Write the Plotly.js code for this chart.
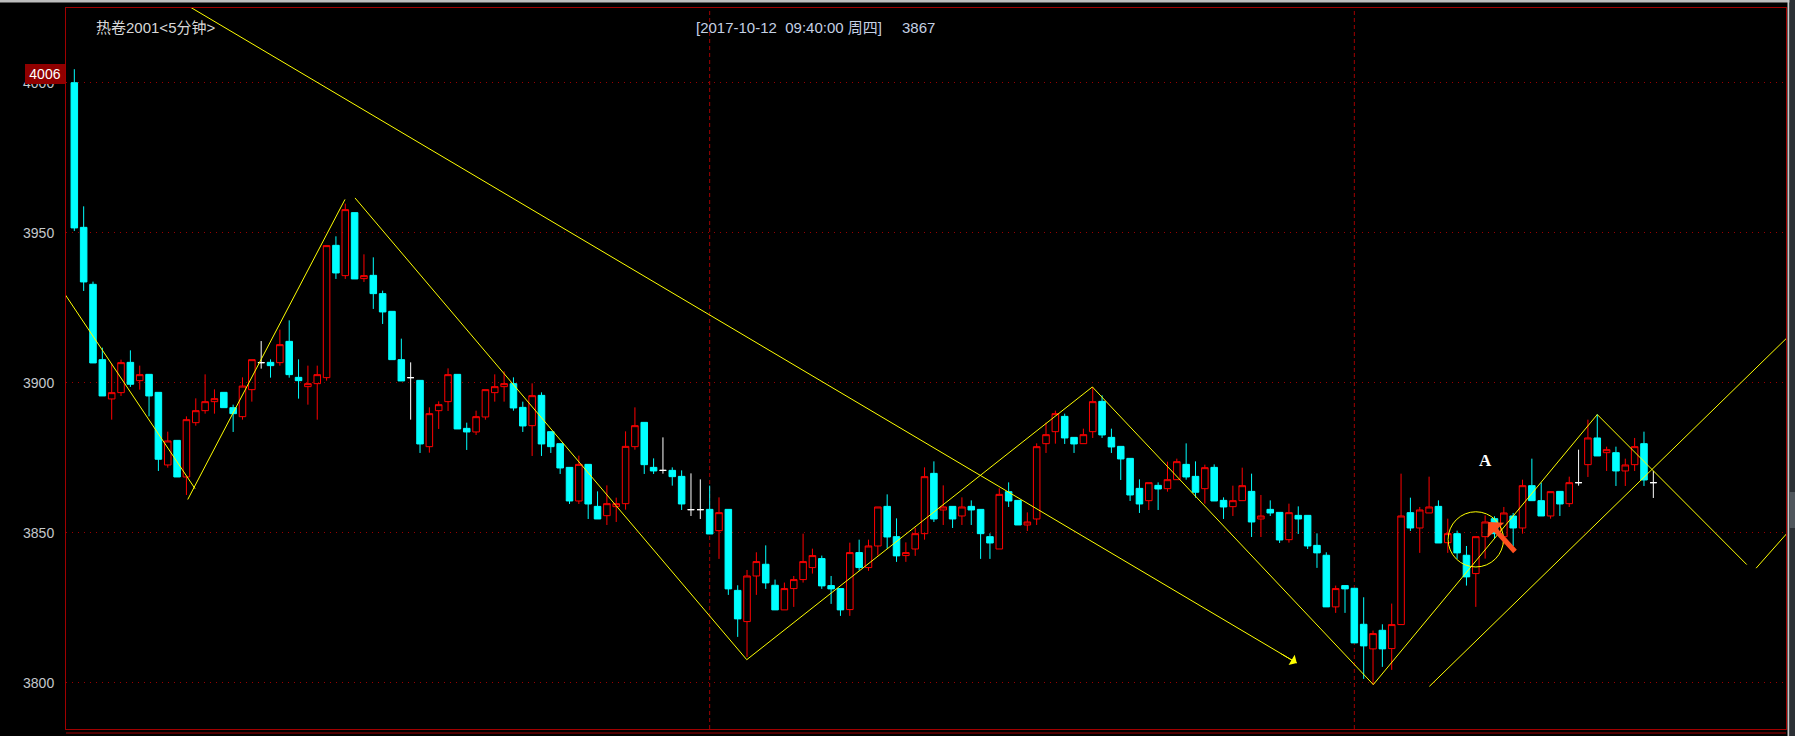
<!DOCTYPE html>
<html><head><meta charset="utf-8">
<script src="https://cdn.plot.ly/plotly-3.0.1.min.js"></script>
<style>html,body{margin:0;padding:0;background:#000;overflow:hidden}</style>
</head><body><div id="chart" style="width:1795px;height:736px"></div>
<script>
// ---- data: 5-minute candles of 热卷2001 ----
const openP = [4000,3951.8,3932.8,3907.7,3894.6,3896.7,3906.8,3900.7,3902.8,3896.8,
3872.6,3880.8,3868.6,3886.7,3890.7,3893.7,3896.8,3891.7,3888.7,3897.7,
3906.7,3906.8,3906.7,3913.8,3901.8,3898.7,3899.7,3901.7,3945.8,3935.7,
3956.7,3934.7,3935.8,3929.7,3923.8,3907.7,3901.7,3900.8,3878.7,3890.7,
3893.7,3902.8,3884.8,3883.6,3888.6,3896.7,3898.7,3899.7,3891.8,3885.7,
3895.8,3883.7,3879.7,3871.8,3860.6,3872.8,3858.8,3855.7,3858.7,3859.7,
3878.7,3886.8,3871.8,3870.8,3870.8,3868.8,3857.7,3857.7,3857.8,3850.7,
3857.8,3830.8,3820.4,3835.6,3839.5,3832.5,3824.3,3831.4,3834.4,3838.4,
3841.4,3832.4,3831.4,3824.4,3843.4,3838.4,3845.6,3858.8,3848.7,3842.4,
3844.6,3849.7,3869.8,3857.6,3858.8,3855.6,3858.8,3857.8,3848.7,3844.6,
3863.7,3860.8,3852.6,3854.6,3879.7,3883.7,3888.8,3881.8,3879.7,3883.7,
3893.8,3881.8,3878.8,3874.8,3864.8,3860.7,3865.8,3864.7,3867.7,3872.8,
3868.8,3864.7,3871.8,3860.8,3858.7,3860.7,3863.8,3854.6,3857.8,3856.8,
3847.7,3855.8,3855.8,3845.8,3842.5,3825.3,3832.4,3831.5,3819.5,3811.3,
3817.5,3811.4,3819.4,3856.7,3851.6,3856.6,3858.8,3846.7,3849.7,3842.5,
3836.4,3848.7,3854.7,3848.7,3855.6,3851.6,3865.7,3860.7,3855.6,3863.8,
3859.7,3866.7,3872.7,3881.6,3876.7,3876.7,3870.6,3872.7,3879.7,3866.7];
const highP = [4004.5,3958.8,3933.7,3911.7,3906.4,3907.7,3910.8,3905.7,3902.8,3896.8,
3883.7,3880.8,3888.8,3894.8,3902.8,3897.8,3896.8,3892.7,3901.8,3907.7,
3913.9,3907.8,3917.7,3920.8,3907.8,3905.7,3905.7,3945.7,3948.8,3959.7,
3956.7,3942.8,3941.8,3930.7,3923.8,3914.7,3906.8,3900.8,3891.8,3893.8,
3904.8,3902.8,3886.7,3890.7,3897.7,3902.8,3903.8,3901.8,3893.7,3899.8,
3896.8,3883.7,3879.7,3871.8,3875.7,3872.8,3863.8,3865.8,3861.7,3883.8,
3891.8,3886.8,3874.8,3881.8,3871.8,3870.8,3869.8,3867.8,3865.7,3861.8,
3857.8,3832.5,3837.6,3843.5,3845.8,3834.4,3833.4,3835.6,3849.7,3844.7,
3842.4,3835.6,3831.4,3846.7,3847.7,3847.7,3858.6,3862.8,3854.8,3846.8,
3851.7,3871.8,3873.8,3865.8,3858.8,3861.8,3860.8,3857.8,3849.8,3864.8,
3866.8,3860.8,3856.8,3879.8,3886.7,3890.7,3889.7,3881.8,3884.7,3898.6,
3895.8,3884.7,3878.8,3874.8,3867.8,3866.7,3866.8,3873.7,3874.7,3879.8,
3873.8,3872.7,3872.8,3861.8,3865.7,3871.7,3869.7,3862.6,3860.8,3856.8,
3859.7,3858.8,3855.8,3849.8,3843.5,3832.4,3832.4,3831.5,3828.5,3817.4,
3819.5,3826.4,3869.7,3861.7,3858.6,3868.7,3860.8,3854.7,3850.7,3845.6,
3848.7,3855.8,3855.5,3858.6,3856.6,3867.7,3874.7,3866.7,3863.7,3863.8,
3868.7,3877.7,3887.7,3889.5,3878.7,3878.7,3874.7,3881.6,3883.7,3870.6];
const lowP = [3950.6,3930.6,3906.6,3895.6,3887.7,3895.6,3898.6,3897.7,3888.8,3870.6,
3871.7,3868.6,3862.6,3885.7,3889.7,3889.7,3891.7,3883.6,3887.7,3893.7,
3904.7,3901.7,3905.7,3901.7,3894.7,3892.7,3887.7,3900.7,3934.6,3934.6,
3934.6,3933.6,3924.6,3919.6,3907.7,3900.6,3887.7,3876.6,3876.7,3884.6,
3890.6,3884.6,3877.6,3882.6,3887.7,3893.7,3893.7,3890.7,3883.6,3875.6,
3875.6,3876.6,3869.6,3859.6,3859.6,3854.6,3854.6,3852.6,3853.6,3857.7,
3877.7,3869.6,3869.6,3869.7,3865.7,3857.6,3855.6,3854.6,3849.6,3841.3,
3829.3,3815.3,3808.6,3829.3,3831.3,3824.3,3824.3,3825.3,3833.4,3836.4,
3831.3,3826.3,3822.3,3822.3,3837.4,3837.3,3842.4,3844.7,3840.3,3840.3,
3842.3,3847.7,3853.6,3852.6,3851.6,3852.6,3852.6,3841.3,3841.3,3844.6,
3858.6,3852.6,3850.6,3852.6,3876.6,3879.7,3879.6,3876.6,3879.7,3881.6,
3881.6,3876.6,3867.6,3860.6,3856.6,3857.6,3857.6,3863.7,3867.7,3867.7,
3861.7,3859.7,3860.6,3854.6,3855.6,3860.7,3848.6,3848.6,3855.6,3846.6,
3846.7,3849.6,3844.6,3838.3,3825.3,3823.3,3823.3,3813.3,3801.3,3799.3,
3805.3,3804.3,3819.4,3850.6,3843.3,3856.6,3846.6,3843.3,3841.3,3832.4,
3825.3,3841.4,3848,3846,3845.6,3849.7,3860.7,3855.6,3854.7,3855.6,
3858.6,3865.7,3868.6,3875.6,3870.6,3865.6,3865.6,3870.6,3865.6,3861.6];
const closeP = [3951.6,3933.6,3906.6,3895.6,3896.7,3906.7,3899.5,3902.7,3895.6,3874.5,
3880.6,3868.6,3887.7,3890.7,3893.7,3894.7,3891.7,3889.7,3898.9,3907.7,
3906.7,3905.7,3912.7,3902.7,3900.7,3899.7,3902.7,3945.7,3936.6,3957.7,
3934.6,3935.7,3929.7,3923.6,3907.7,3900.6,3901.7,3879.6,3889.7,3892.7,
3902.7,3884.6,3883.6,3888.7,3897.7,3898.7,3899.7,3891.6,3885.6,3895.7,
3879.6,3878.7,3871.6,3860.6,3872.8,3859.6,3854.6,3859.7,3859.7,3878.8,
3885.7,3872.7,3870.6,3870.8,3868.7,3859.6,3857.7,3857.7,3849.6,3856.7,
3831.3,3821.3,3835.6,3840.4,3833.3,3824.3,3831.4,3834.4,3840.4,3842.4,
3832.3,3831.3,3824.3,3843.4,3838.4,3845.6,3858.6,3848.6,3842.3,3843.4,
3849.7,3868.7,3854.6,3858.6,3854.6,3858.6,3857.6,3849.7,3846.6,3862.8,
3860.6,3852.6,3853.6,3878.7,3882.7,3889.7,3881.6,3879.6,3882.7,3893.7,
3882.6,3878.6,3874.6,3862.6,3859.6,3866.7,3864.6,3867.7,3873.7,3868.6,
3863.5,3871.7,3860.6,3858.6,3860.7,3865.7,3853.6,3855.6,3856.6,3847.6,
3856.7,3854.6,3845.6,3843.3,3825.3,3831.4,3831.3,3813.3,3812.3,3816.4,
3811.3,3819.4,3855.6,3851.6,3857.6,3858.6,3846.6,3849.7,3843.3,3835.3,
3848.7,3853.6,3849.7,3856.6,3851.6,3865.7,3860.7,3855.6,3863.7,3859.6,
3866.7,3866.7,3881.6,3875.6,3877.7,3870.6,3872.6,3878.7,3867.6,3866.7];
const yTicks = [3800, 3850, 3900, 3950, 4000];
const dayBreaks = [68, 137];                 // candle index where a new session starts
const highLabel = 4006;
const chartTitle = '热卷2001&lt;5分钟&gt;';
const headerText = '[2017-10-12&nbsp;&nbsp;09:40:00 周四]';
const lastPrice = 3867;
// hand-drawn trend lines: [index0, price0, index1, price1]
const trendLines = [
  [0, 4048.1, 130.84, 3806.6],
  [-3, 3938.8, 12.92, 3864.7],
  [12.14, 3861.1, 28.97, 3961.1],
  [30.04, 3961.6, 71.97, 3807.7],
  [71.97, 3807.7, 108.96, 3898.6],
  [108.96, 3898.6, 139.03, 3799.4],
  [139.03, 3799.4, 163.0, 3889.4],
  [163.0, 3889.4, 179.0, 3839.4],
  [180.0, 3838.2, 186.0, 3859.3],
  [145.03, 3798.8, 190.0, 3935.3]
];
const circleMark = [150.0, 3847.8, 2.965, 9.2];  // center index, center price, radius index, radius price
const arrowTip = [151.34, 3853.6];
const labelA = [151.0, 3874.1];

// ---- build ----
const xs = openP.map((_, i) => i);
const isDoji = openP.map((o, i) => Math.abs(o - closeP[i]) < 0.05);
const pick = (arr, want) => arr.filter((_, i) => isDoji[i] === want);

const mainTrace = {
  type: 'candlestick', x: pick(xs, false),
  open: pick(openP, false), high: pick(highP, false), low: pick(lowP, false), close: pick(closeP, false),
  increasing: {line: {color: '#ff0000', width: 1}, fillcolor: 'rgba(0,0,0,0)'},
  decreasing: {line: {color: '#00ffff', width: 1}, fillcolor: '#00ffff'},
  whiskerwidth: 0, showlegend: false, hoverinfo: 'skip'
};
const dojiTrace = {
  type: 'candlestick', x: pick(xs, true),
  open: pick(openP, true), high: pick(highP, true), low: pick(lowP, true), close: pick(closeP, true),
  increasing: {line: {color: '#ffffff', width: 1}, fillcolor: '#ffffff'},
  decreasing: {line: {color: '#ffffff', width: 1}, fillcolor: '#ffffff'},
  whiskerwidth: 0, showlegend: false, hoverinfo: 'skip'
};

const W = 1795, H = 736, L = 66, R = 9, T = 8, B = 7;
const PW = W - L - R, PH = H - T - B;
const px = v => (v - L) / PW;            // pixel -> paper x
const py = v => (H - B - v) / PH;        // pixel -> paper y

const shapes = [];
trendLines.forEach(t => shapes.push({type: 'line', xref: 'x', yref: 'y', x0: t[0], y0: t[1], x1: t[2], y1: t[3],
  line: {color: '#ffff00', width: 1}, layer: 'above'}));
dayBreaks.forEach(d => shapes.push({type: 'line', xref: 'x', yref: 'paper', x0: d, x1: d, y0: 0, y1: 1,
  line: {color: '#a00000', width: 1, dash: '4px,3px'}, layer: 'between'}));
shapes.push({type: 'circle', xref: 'x', yref: 'y',
  x0: circleMark[0] - circleMark[2], x1: circleMark[0] + circleMark[2],
  y0: circleMark[1] - circleMark[3], y1: circleMark[1] + circleMark[3],
  line: {color: '#ffff00', width: 1}, layer: 'above'});
// window chrome
shapes.push({type: 'rect', xref: 'paper', yref: 'paper', x0: px(0), x1: px(W), y0: py(0), y1: py(2.5),
  fillcolor: '#bdbdbd', line: {width: 0}, layer: 'above'});
shapes.push({type: 'line', xref: 'paper', yref: 'paper', x0: px(L), x1: px(W - R), y0: py(733), y1: py(733),
  line: {color: '#a00000', width: 1}, layer: 'above'});
shapes.push({type: 'rect', xref: 'paper', yref: 'paper', x0: px(1787.5), x1: px(1789.5), y0: py(H), y1: py(0),
  fillcolor: '#c8c8c8', line: {width: 0}, layer: 'above'});
shapes.push({type: 'rect', xref: 'paper', yref: 'paper', x0: px(1789.5), x1: px(W + 2), y0: py(H), y1: py(0),
  fillcolor: '#2c3035', line: {width: 0}, layer: 'above'});
shapes.push({type: 'rect', xref: 'paper', yref: 'paper', x0: px(1789.5), x1: px(W + 2), y0: py(528), y1: py(492),
  fillcolor: '#50565c', line: {width: 0}, layer: 'above'});

const annotations = [
  {xref: 'paper', yref: 'paper', x: px(94), y: py(27.5), xanchor: 'left', yanchor: 'middle', showarrow: false,
   text: chartTitle, font: {family: 'Liberation Sans, Noto Sans CJK SC', size: 15, color: '#d8d8d8'}},
  {xref: 'paper', yref: 'paper', x: px(694), y: py(27.5), xanchor: 'left', yanchor: 'middle', showarrow: false,
   text: headerText, font: {family: 'Liberation Sans, Noto Sans CJK SC', size: 15, color: '#c4d0e4'}},
  {xref: 'paper', yref: 'paper', x: px(900), y: py(27.5), xanchor: 'left', yanchor: 'middle', showarrow: false,
   text: String(lastPrice), font: {family: 'Liberation Sans', size: 15, color: '#c4d0e4'}},
  {xref: 'paper', yref: 'paper', x: px(45), y: py(74), xanchor: 'center', yanchor: 'middle', showarrow: false,
   text: String(highLabel), width: 40, height: 20, bgcolor: '#900000', borderpad: 0, borderwidth: 0,
   font: {family: 'Liberation Sans', size: 14, color: '#ffffff'}},
  {xref: 'x', yref: 'y', x: labelA[0], y: labelA[1], showarrow: false, text: '<b>A</b>',
   font: {family: 'Liberation Serif', size: 17, color: '#ffffff'}},
  {xref: 'x', yref: 'y', x: trendLines[0][2], y: trendLines[0][3], ax: -17, ay: -10, text: '',
   showarrow: true, arrowhead: 1, arrowsize: 2, arrowwidth: 1, arrowcolor: '#ffff00'},
  {xref: 'x', yref: 'y', x: arrowTip[0], y: arrowTip[1], ax: 28, ay: 31, text: '',
   showarrow: true, arrowhead: 1, arrowsize: 0.75, arrowwidth: 5, arrowcolor: '#ff5020'}
];

const layout = {
  width: W, height: H,
  margin: {l: L, r: R, t: T, b: B, pad: 0},
  paper_bgcolor: '#000000', plot_bgcolor: '#000000',
  showlegend: false, dragmode: false, hovermode: false,
  boxgap: 0.3, boxgroupgap: 0,
  xaxis: {type: 'linear', range: [-0.89, 183.2], showgrid: false, zeroline: false, showticklabels: false,
          ticks: '', showline: true, mirror: true, linecolor: '#a00000', linewidth: 1,
          rangeslider: {visible: false}, fixedrange: true},
  yaxis: {range: [3784.6, 4024.9], tickvals: yTicks, ticktext: yTicks.map(String),
          showgrid: true, gridcolor: '#990000', gridwidth: 1, griddash: '1px,5px', zeroline: false,
          showline: true, mirror: true, linecolor: '#a00000', linewidth: 1,
          ticks: 'outside', ticklen: 8, tickcolor: 'rgba(0,0,0,0)',
          tickfont: {family: 'Liberation Sans', size: 14, color: '#c4c8cc'}, fixedrange: true},
  shapes: shapes,
  annotations: annotations
};

Plotly.newPlot('chart', [mainTrace, dojiTrace], layout, {staticPlot: true, displayModeBar: false});
</script>
</body></html>
